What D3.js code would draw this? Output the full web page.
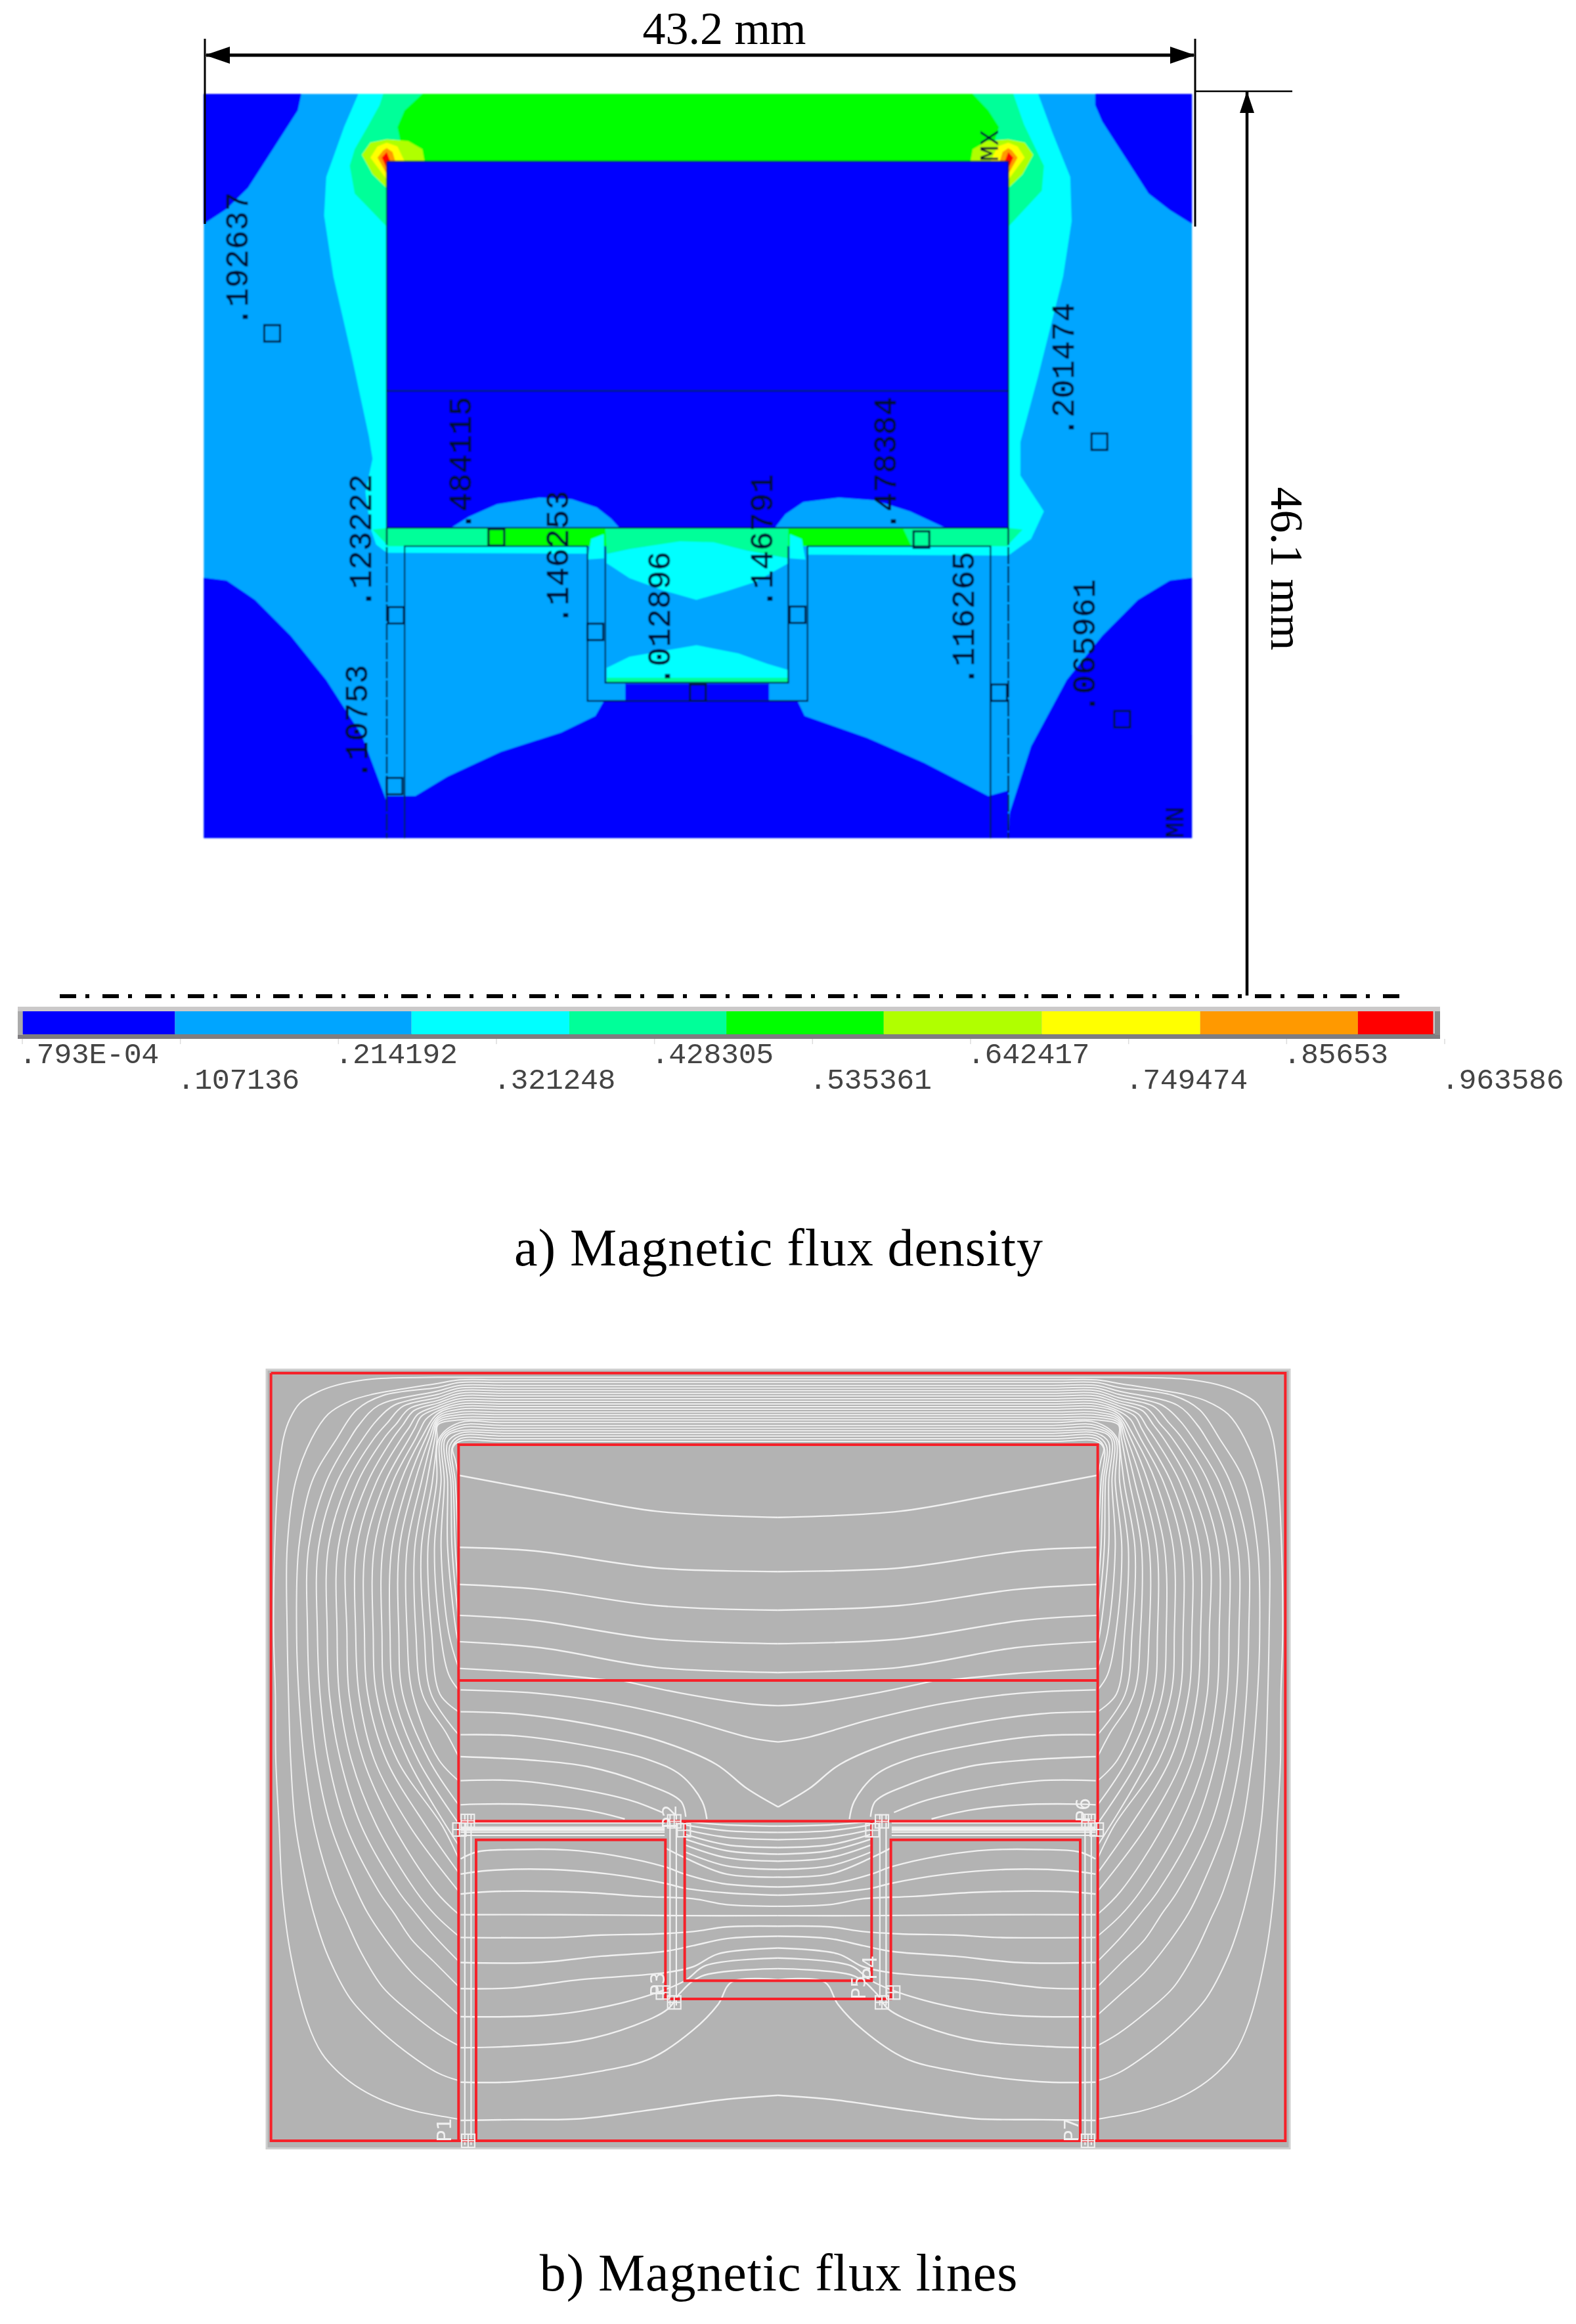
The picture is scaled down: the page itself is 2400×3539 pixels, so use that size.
<!DOCTYPE html>
<html>
<head>
<meta charset="utf-8">
<script src="https://cdn.jsdelivr.net/npm/d3@7"></script>
<style>
  body { margin: 0; background: #fff; }
  svg { display: block; }
</style>
</head>
<body>
<svg id="chart" width="2400" height="3539"></svg>
<script>
// ---- legend values
const levelLabels = [".793E-04", ".107136", ".214192", ".321248", ".428305", ".535361", ".642417", ".749474", ".85653", ".963586"];
const levelValues = [0.0000793, 0.107136, 0.214192, 0.321248, 0.428305, 0.535361, 0.642417, 0.749474, 0.85653, 0.963586];
const swatchEdges = [0.0004, 0.1035, 0.2637, 0.3706, 0.477, 0.5836, 0.6907, 0.798, 0.9048, 0.9558];
const swatchColors = ["#0000ff", "#00a5ff", "#00ffff", "#00ff99", "#00ff00", "#b0ff00", "#ffff00", "#ff9900", "#ff0000"];
const [BLUE, SKY, CYAN, SPRING, GREEN, LIME, YELLOW, ORANGE, RED] = swatchColors;

// ---- panel a: contour bands (sheet units)
const cornerBlue = [
  [[28,170],[165,170],[160,200],[140,240],[115,290],[90,340],[60,378],[28,405]],
  [[1280,170],[1416,170],[1416,405],[1385,380],[1355,350],[1335,310],[1310,260],[1290,220],[1280,190]],
  [[28,1045],[60,1050],[100,1085],[150,1150],[200,1230],[250,1330],[285,1450],[285,1516],[28,1516]],
  [[1416,1045],[1385,1050],[1340,1085],[1290,1150],[1240,1230],[1190,1350],[1160,1470],[1158,1516],[1416,1516]],
  [[285,1516],[285,1440],[325,1440],[370,1405],[445,1360],[530,1325],[578,1295],[590,1268],[620,1268],[620,1237],[822,1237],[822,1268],[862,1268],[872,1295],[960,1335],[1040,1380],[1130,1440],[1158,1430],[1158,1516]]
];
const cyanBand = [[245,170],[225,230],[200,320],[197,390],[210,500],[235,640],[260,790],[265,830],[255,890],[262,955],[270,985],[285,1000],[1158,1005],[1190,975],[1208,925],[1175,860],[1175,800],[1200,680],[1235,500],[1247,400],[1245,320],[1220,240],[1200,170]];
const springBand = [[280,170],[275,190],[260,225],[240,270],[233,300],[240,350],[285,410],[1158,410],[1205,345],[1208,300],[1180,225],[1165,170]];
const greenBand = [[335,170],[310,200],[300,230],[310,292],[1130,292],[1145,230],[1130,200],[1108,170]];
const hotSpotLeft = [
  {color: LIME, points: [[250,280],[262,258],[285,252],[315,255],[335,270],[338,292],[285,292],[285,340],[265,315]]},
  {color: YELLOW, points: [[262,285],[272,265],[285,258],[300,265],[310,292],[285,292],[285,325]]},
  {color: ORANGE, points: [[272,285],[280,272],[285,268],[293,275],[297,292],[285,292],[285,315]]},
  {color: RED, points: [[278,285],[285,275],[290,292],[285,292],[285,305]]}
];
const blockLenses = [
  [[375,955],[400,935],[440,912],[500,900],[545,903],[580,918],[600,938],[612,955]],
  [[830,955],[845,930],[870,908],[920,900],[970,905],[1020,925],[1070,955]]
];
const plateGreen = [
  [[426,955],[600,955],[610,975],[594,988],[426,988]],
  [[832,955],[1010,955],[1022,988],[850,988],[835,975]]
];
const channelSpring = [[592,955],[849,955],[849,1010],[791,996],[744,981],[697,979],[626,993],[594,1002]];
const channelCyanTop = [[594,1002],[626,993],[697,979],[744,981],[791,996],[849,1010],[849,1019],[802,1053],[761,1070],[720,1085],[673,1068],[626,1046],[594,1019]];
const channelCyanLow = [[594,1208],[626,1188],[720,1167],[779,1182],[820,1201],[849,1212],[849,1235],[594,1235]];
const wallCyan = [
  [[572,975],[590,966],[590,1010],[567,1012]],
  [[851,966],[868,975],[873,1012],[851,1010]]
];
const outlineSolid = [
  [[285,292],[1158,292],[1158,955],[285,955],[285,292]],
  [[285,707],[1158,707]],
  [[310,1516],[310,988],[567,988],[567,1268],[876,1268],[876,988],[1133,988],[1133,1516]],
  [[592,988],[592,1235],[849,1235],[849,988]]
];
const outlineLegs = [[[285,955],[285,1516]], [[1158,955],[1158,1516]]];
const nodeSquares = [[124,603],[1286,799],[439,972],[1036,976],[298,1113],[578,1143],[862,1112],[722,1253],[1145,1253],[1318,1301],[296,1422]];
const nodeLabels = [".192637", ".201474", ".484115", ".478384", ".123222", ".146253", ".146791", ".012896", ".116265", ".065961", ".10753"];
const nodeLabelAt = [[75,590],[1235,790],[388,960],[985,960],[248,1100],[525,1130],[812,1100],[668,1240],[1095,1240],[1265,1290],[243,1410]];

// ---- panel b: flux lines around the block, left half, mirrored when drawn
const fluxTopY = [22,34,46,59,71,83,95,107,120,132,144,156,168,181,193,205,217,229,242,254,266,278,290,303,315];
const fluxNearCornerY = [22,50,68,85,100,115,128,140,152,164,176,188,200,210,220,230,240,null,null,null,null,null,null,null,null];
const fluxShoulder = [
  [[500,30],[350,55],[250,90],[170,140],[125,210]],
  [[640,75],[500,100],[400,130],[300,190]],
  [[550,105],[430,170]],
  [[530,150],[440,240]], [[600,150],[520,220]], [[640,155],[570,230]], [[670,165],[610,235]],
  [[690,175],[640,240]], [[710,190],[670,250]], [[725,200],[695,255]], [[745,215],[720,260]],
  [],[],[],[],[],[],[],[],[],[],[],[],[],[]
];
const fluxKnee = [[95,300],[225,300],[340,300],[400,300],[460,300],[510,300],[555,300],[595,300],[635,300],[670,300],[700,300],[725,300],[745,300],[762,300],[775,300],[787,300],[797,300],[807,300],[815,300],[825,300],[835,300],[845,320],[855,335],[865,345],[868,345]];
const fluxX500 = [70,150,225,290,340,390,435,480,520,560,595,630,665,695,725,750,775,795,815,830,845,860,870,880,null];
const fluxX800 = [55,112,165,210,255,300,345,385,430,470,510,550,590,625,660,695,725,755,785,815,845,865,880,null,null];
const fluxTail = [
  [[50,1190],[58,1470],[60,1770],[75,2070],[90,2370],[130,2670],[205,2970],[270,3110],[350,3200],[450,3275],[560,3330],[700,3375],[830,3400],[895,3411]],
  [[112,1190],[118,1470],[128,1770],[150,2070],[207,2370],[250,2530],[300,2670],[400,2860],[520,2990],[650,3100],[800,3200],[895,3235]],
  [[155,1190],[165,1470],[190,1770],[235,2070],[322,2370],[380,2500],[450,2650],[550,2810],[670,2920],[800,3020],[895,3075]],
  [[205,1190],[215,1470],[245,1770],[310,2070],[430,2370],[480,2470],[560,2590],[680,2740],[790,2840],[895,2935]],
  [[250,1190],[262,1470],[300,1770],[380,2070],[530,2370],[600,2470],[680,2590],[780,2690],[895,2805]],
  [[295,1190],[305,1470],[355,1770],[450,2070],[620,2370],[690,2460],[780,2570],[895,2690]],
  [[340,1190],[350,1470],[405,1770],[520,2070],[700,2370],[790,2480],[895,2575]],
  [[385,1190],[395,1470],[460,1770],[595,2070],[790,2370],[895,2475]],
  [[425,1190],[440,1470],[510,1770],[670,2070],[895,2370]],
  [[465,1190],[480,1470],[565,1770],[745,2070],[895,2285]],
  [[505,1190],[520,1470],[615,1770],[820,2070],[895,2220]],
  [[545,1190],[560,1470],[665,1770],[895,2160]],
  [[582,1190],[600,1470],[710,1770],[895,2060]],
  [[622,1190],[640,1470],[760,1770],[895,1975]],
  [[660,1190],[685,1470],[805,1770],[895,1865]],
  [[700,1190],[730,1470],[840,1650],[895,1755]],
  [[738,1190],[770,1470],[895,1655]],
  [[772,1190],[810,1470],[895,1550]],
  [[812,1190],[850,1380],[895,1450]],
  [[850,1190],[895,1350]],
  [[885,1190],[895,1235]],
  [[893,1115]],
  [[893,970]],
  [[893,795]],
  [[880,400],[893,465]]
];
const redFrames = [
  [[38,3],[4672,3],[4672,3510],[38,3510],[38,3]],
  [[895,3510],[895,330],[3815,330],[3815,3510]],
  [[895,1407],[3815,1407]],
  [[895,2050],[3815,2050]],
  [[975,3510],[975,2135],[1840,2135],[1840,2862],[2870,2862],[2870,2135],[3735,2135],[3735,3510]],
  [[1928,2050],[1928,2779],[2782,2779],[2782,2050]]
];
// upper block, mirrored
const blockLinesUpper = [
  [[308,225],[450,260],[600,295],[779,307]],
  [[308,365],[420,372],[600,405],[779,412]],
  [[308,437],[430,447],[600,478],[779,487]],
  [[308,497],[420,507],[600,543],[779,552]],
  [[308,548],[430,560],[600,598],[779,608]],
  [[308,600],[430,610],[530,623]]
];
// lower block, mirrored
const blockLinesLower = [
  [[750,178],[1000,235],[1300,285],[1414,292]],
  [[60,220],[380,235],[700,280],[1000,350],[1300,440],[1414,458]],
  [[60,320],[300,330],[600,375],[900,450],[1150,560],[1280,670],[1414,755]],
  [[60,425],[300,430],[600,475],[850,535],[1000,610],[1090,730],[1110,810]],
  [[60,525],[350,540],[600,570],[850,650],[1000,730],[1020,800]],
  [[60,635],[300,635],[600,680],[800,730],[920,780]],
  [[60,745],[130,742],[380,745],[600,770],[760,810]]
];
const plateLines = [828, 848, 858, 870, 885];
// windows and centre channel, mirrored
const windowLines = [
  [[65,310],[105,280],[200,270],[320,272],[430,295],[555,345],[600,375],[690,415],[823,430]],
  [[65,375],[130,360],[280,355],[420,375],[555,415],[600,435],[700,455],[823,465]],
  [[65,460],[130,450],[350,452],[500,470],[620,480],[700,505],[823,512]],
  [[65,548],[300,548],[600,552],[823,552]],
  [[65,645],[300,645],[400,635],[530,630],[620,620],[700,600],[823,597]],
  [[65,752],[250,752],[400,725],[550,705],[620,680],[700,650],[823,640]],
  [[65,863],[190,860],[350,825],[555,795],[620,770],[680,715],[823,690]],
  [[65,983],[240,980],[350,960],[500,900],[600,830],[650,765],[823,733]],
  [[65,1115],[180,1110],[350,1085],[480,1020],[560,950],[590,880],[640,810],[823,778]],
  [[65,1262],[200,1260],[400,1215],[520,1160],[620,1040],[680,930],[712,835],[823,825]],
  [[65,1425],[190,1422],[350,1418],[500,1385],[700,1335],[823,1318]],
  [[600,150],[700,165],[823,170]],
  [[600,165],[700,190],[823,197]],
  [[600,185],[700,218],[823,228]],
  [[600,205],[700,250],[823,262]],
  [[600,225],[700,275],[823,290]],
  [[600,250],[700,305],[823,320]],
  [[600,280],[700,340],[823,355]],
  [[555,265],[600,305],[700,375],[823,388]]
];
const legRails = [[75,120,1530],[90,120,1530],[565,120,935],[580,120,935]];
const meshNodes = [[82,148],[62,185],[575,150],[598,188],[575,922],[548,880],[83,1512]];
const pointTags = [
  {name: "P1", at: [687,3262]}, {name: "P2", at: [1030,2785]}, {name: "P3", at: [1012,3040]},
  {name: "P4", at: [1335,3015]}, {name: "P5", at: [1318,3045]}, {name: "P6", at: [1660,2775]},
  {name: "P7", at: [1642,3262]}
];

const svg = d3.select("#chart");
const monoFont = "'Liberation Mono','DejaVu Sans Mono',monospace";
const serifFont = "'Liberation Serif','DejaVu Serif',serif";

// one sheet scale per reading grid
const xA = d3.scaleLinear([0,1568],[280,1980]), yA = d3.scaleLinear([0,1568],[0,1320]);
const xB = d3.scaleLinear([0,3000],[400,1400]), yB = d3.scaleLinear([0,3000],[2090,3090]);
const xC = d3.scaleLinear([0,1568],[380,2000]), yC = d3.scaleLinear([0,1568],[2070,3300]);
const xD = d3.scaleLinear([0,1568],[660,1660]), yD = d3.scaleLinear([0,1568],[2720,3280]);
const xE = d3.scaleLinear([0,1568],[680,1240]), yE = d3.scaleLinear([0,1080],[2500,2860]);
const xLevel = d3.scaleLinear([levelValues[0], levelValues[9]], [34, 2200]);

const lineA = d3.line().x(d => xA(d[0])).y(d => yA(d[1]));
function fillA(g, points, color) {
  g.append("path").attr("d", lineA(points) + "Z").attr("fill", color);
}

const defs = svg.append("defs");
const softFilter = (id, blur) => defs.append("filter").attr("id", id)
  .attr("x", "-2%").attr("y", "-2%").attr("width", "104%").attr("height", "104%")
  .append("feGaussianBlur").attr("stdDeviation", blur);
softFilter("softA", 0.9);
softFilter("softB", 0.45);

// ---------- panel a
const panelA = svg.append("g").attr("id", "flux-density").attr("filter", "url(#softA)");

panelA.append("rect").attr("x", xA(28)).attr("y", yA(170)).attr("width", xA(1416) - xA(28)).attr("height", yA(1516) - yA(170)).attr("fill", SKY);
cornerBlue.forEach(p => fillA(panelA, p, BLUE));
fillA(panelA, cyanBand, CYAN);
fillA(panelA, springBand, SPRING);
fillA(panelA, greenBand, GREEN);
hotSpotLeft.forEach(h => {
  fillA(panelA, h.points, h.color);
  fillA(panelA, h.points.map(p => [1443 - p[0], p[1]]), h.color);
});
panelA.append("rect").attr("x", xA(285)).attr("y", yA(292)).attr("width", xA(1158) - xA(285)).attr("height", yA(955) - yA(292)).attr("fill", BLUE);
blockLenses.forEach(p => fillA(panelA, p, SKY));

// pole plate and channel
panelA.append("rect").attr("x", xA(285)).attr("y", yA(955)).attr("width", xA(1158) - xA(285)).attr("height", yA(988) - yA(955)).attr("fill", SPRING);
fillA(panelA, [[1158,955],[1178,958],[1158,985]], SPRING);
fillA(panelA, [[285,955],[265,958],[285,985]], SPRING);
plateGreen.forEach(p => fillA(panelA, p, GREEN));
panelA.append("rect").attr("x", xA(567)).attr("y", yA(988)).attr("width", xA(876) - xA(567)).attr("height", yA(1268) - yA(988)).attr("fill", SKY);
fillA(panelA, channelSpring, SPRING);
fillA(panelA, channelCyanTop, CYAN);
fillA(panelA, channelCyanLow, CYAN);
fillA(panelA, [[594,1226],[849,1226],[849,1235],[594,1235]], SPRING);
wallCyan.forEach(p => fillA(panelA, p, CYAN));
panelA.append("rect").attr("x", xA(620)).attr("y", yA(1237)).attr("width", xA(822) - xA(620)).attr("height", yA(1268) - yA(1237)).attr("fill", BLUE);

// outlines
outlineSolid.forEach(p => panelA.append("path").attr("d", lineA(p)).attr("fill", "none").attr("stroke", "#051a40").attr("stroke-width", 2.2));
outlineLegs.forEach(p => panelA.append("path").attr("d", lineA(p)).attr("fill", "none").attr("stroke", "#051a40").attr("stroke-width", 2.4).attr("stroke-dasharray", "26,3"));

panelA.selectAll("rect.node").data(nodeSquares).join("rect")
  .attr("class", "node")
  .attr("x", d => xA(d[0]) - 12).attr("y", d => yA(d[1]) - 12.5)
  .attr("width", 24).attr("height", 25)
  .attr("fill", "none").attr("stroke", "#02143a").attr("stroke-width", 3);

// the node values run up the page
const rotated = (x, y, rot) => `translate(${x},${y}) rotate(${rot})`;
panelA.selectAll("text.nodeval").data(nodeLabels).join("text")
  .attr("class", "nodeval")
  .attr("transform", (d, i) => rotated(xA(nodeLabelAt[i][0]) + 16, yA(nodeLabelAt[i][1]), -90))
  .attr("font-family", monoFont).attr("font-size", 48).attr("letter-spacing", 0.4)
  .attr("fill", "#000a30").attr("stroke", "#000a30").attr("stroke-width", 0.6)
  .text(d => d);
panelA.append("text").attr("transform", rotated(xA(1132) + 13, yA(292), -90))
  .attr("font-family", monoFont).attr("font-size", 40).attr("fill", "#000a30").text("MX");
panelA.append("text").attr("transform", rotated(xA(1392) + 13, yA(1516), -90))
  .attr("font-family", monoFont).attr("font-size", 40).attr("fill", "#000a30").text("MN");

// ---------- dimensions
const dim = svg.append("g").attr("id", "dimensions");
function rule(x1, y1, x2, y2, w) {
  dim.append("line").attr("x1", x1).attr("y1", y1).attr("x2", x2).attr("y2", y2).attr("stroke", "#000").attr("stroke-width", w);
}
rule(312, 59, 312, 341, 3);
rule(1820, 59, 1820, 345, 3);
rule(1820, 139, 1968, 139, 2.5);
rule(314, 84, 1818, 84, 5);
rule(1899, 139, 1899, 1516, 4.5);
dim.append("path").attr("d", "M312,84L350,71L350,97Z");
dim.append("path").attr("d", "M1820,84L1782,71L1782,97Z");
dim.append("path").attr("d", "M1899,139L1888,172L1910,172Z");
dim.append("text").attr("x", 1103).attr("y", 67).attr("text-anchor", "middle")
  .attr("font-family", serifFont).attr("font-size", 70).text("43.2 mm");
dim.append("text").attr("transform", rotated(1936, 866, 90)).attr("text-anchor", "middle")
  .attr("font-family", serifFont).attr("font-size", 70).text("46.1 mm");
dim.append("line").attr("x1", 91).attr("y1", 1517).attr("x2", 2134).attr("y2", 1517)
  .attr("stroke", "#000").attr("stroke-width", 6).attr("stroke-dasharray", "25,14,6,20");

// ---------- legend bar
const legend = svg.append("g").attr("id", "legend");
legend.append("rect").attr("x", 27).attr("y", 1533).attr("width", 2166).attr("height", 49).attr("fill", "#cbc9c9");
legend.append("rect").attr("x", 27).attr("y", 1574).attr("width", 2166).attr("height", 8).attr("fill", "#7f7d80");
legend.append("rect").attr("x", 27).attr("y", 1540).attr("width", 8).attr("height", 36).attr("fill", "#ababab");
legend.append("rect").attr("x", 2185).attr("y", 1540).attr("width", 8).attr("height", 36).attr("fill", "#8a8a8a");
legend.selectAll("rect.swatch").data(swatchColors).join("rect")
  .attr("class", "swatch")
  .attr("x", (d, i) => xLevel(swatchEdges[i]))
  .attr("width", (d, i) => xLevel(swatchEdges[i + 1]) - xLevel(swatchEdges[i]))
  .attr("y", 1540).attr("height", 35)
  .attr("fill", d => d);
legend.selectAll("line.tick").data(levelValues).join("line")
  .attr("class", "tick")
  .attr("x1", d => xLevel(d)).attr("x2", d => xLevel(d)).attr("y1", 1582).attr("y2", 1590)
  .attr("stroke", "#ddd").attr("stroke-width", 1.5);
legend.selectAll("text").data(levelLabels).join("text")
  .attr("x", (d, i) => xLevel(levelValues[i]) - 5)
  .attr("y", (d, i) => i % 2 ? 1658 : 1619)
  .attr("font-family", monoFont).attr("font-size", 45).attr("letter-spacing", -0.4)
  .attr("fill", "#444").text(d => d);

svg.append("text").attr("x", 1186).attr("y", 1927).attr("text-anchor", "middle")
  .attr("font-family", serifFont).attr("font-size", 80).attr("letter-spacing", 0.9).text("a) Magnetic flux density");

// ---------- panel b
const panelB = svg.append("g").attr("id", "flux-lines").attr("filter", "url(#softB)");
panelB.append("rect").attr("x", xB(18)).attr("y", yB(-13)).attr("width", xB(4692) - xB(18)).attr("height", yB(3545) - yB(-13))
  .attr("fill", "#b3b3b3").attr("stroke", "#cfcfcf").attr("stroke-width", 3);

const fluxCurve = (x, y) => d3.line().x(d => x(d[0])).y(d => y(d[1])).curve(d3.curveCatmullRom.alpha(0.5));
function drawMirrored(lines, x, y, axis, width) {
  const path = fluxCurve(x, y);
  lines.forEach(points => {
    [points, points.map(p => [axis - p[0], p[1]])].forEach(pts => {
      panelB.append("path").attr("d", path(pts)).attr("fill", "none")
        .attr("stroke", "#f0f0f0").attr("stroke-width", width);
    });
  });
}

const outerLines = fluxTopY.map((top, i) => {
  const pts = [[2355, top], [1100, top], [900, top]];
  if (fluxNearCornerY[i] !== null) pts.push([800, fluxNearCornerY[i]]);
  pts.push(...fluxShoulder[i], fluxKnee[i]);
  if (fluxX500[i] !== null) pts.push([fluxX500[i], 500]);
  if (fluxX800[i] !== null) pts.push([fluxX800[i], 800]);
  pts.push(...fluxTail[i]);
  return pts;
});
drawMirrored(outerLines, xB, yB, 4710, 2);
drawMirrored(blockLinesUpper, xC, yC, 1558, 2.4);
drawMirrored(blockLinesLower, xE, yE, 2828, 2.4);
drawMirrored(windowLines, xD, yD, 1646, 2.4);

plateLines.forEach((py, i) => {
  drawMirrored([[[60, py], [930, py]]], xE, yE, 2828, i === 2 ? 4.5 : 2.2);
});
legRails.forEach(r => drawMirrored([[[r[0], r[1]], [r[0], r[2]]]], xD, yD, 1646, 2.2));

const redLine = d3.line().x(d => xB(d[0])).y(d => yB(d[1]));
panelB.selectAll("path.red").data(redFrames).join("path")
  .attr("class", "red").attr("d", redLine).attr("fill", "none")
  .attr("stroke", "#f5222a").attr("stroke-width", 4);

const nodesAll = meshNodes.concat(meshNodes.map(n => [1646 - n[0], n[1]]));
nodesAll.forEach(n => {
  const cx = xD(n[0]), cy = yD(n[1]);
  panelB.append("rect").attr("x", cx - 10).attr("y", cy - 10).attr("width", 20).attr("height", 20)
    .attr("fill", "none").attr("stroke", "#eee").attr("stroke-width", 2.2);
  panelB.append("path").attr("d", `M${cx - 10},${cy}H${cx + 10}M${cx},${cy - 10}V${cy + 10}`)
    .attr("stroke", "#eee").attr("stroke-width", 2);
});
panelB.selectAll("text.tag").data(pointTags).join("text")
  .attr("class", "tag")
  .attr("transform", d => rotated(d.at[0], d.at[1], -90))
  .attr("font-family", "'DejaVu Sans',sans-serif").attr("font-size", 30).attr("fill", "#f0f0f0")
  .text(d => d.name);

svg.append("text").attr("x", 1186).attr("y", 3488).attr("text-anchor", "middle")
  .attr("font-family", serifFont).attr("font-size", 80).attr("letter-spacing", 0.9).text("b) Magnetic flux lines");
</script>
</body>
</html>
